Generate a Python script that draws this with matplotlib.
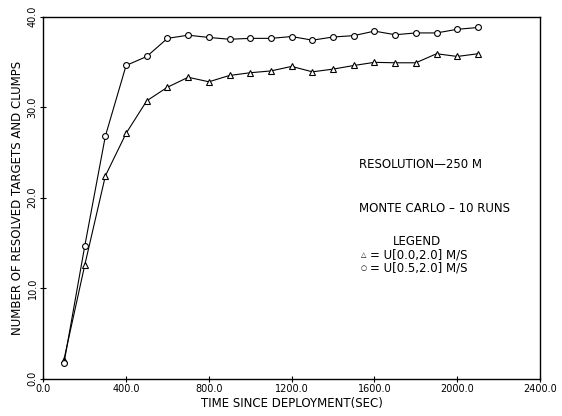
import matplotlib
matplotlib.use("Agg")
import matplotlib.pyplot as plt

# Time since deployment (sec) and mean number of resolved targets/clumps
time_sec = [100, 200, 300, 400, 500, 600, 700, 800, 900, 1000, 1100,
            1200, 1300, 1400, 1500, 1600, 1700, 1800, 1900, 2000, 2100]
speed_00_20 = [2.1, 12.5, 22.4, 27.1, 30.7, 32.2, 33.3, 32.8, 33.5, 33.8, 34.0,
               34.5, 33.9, 34.2, 34.6, 34.95, 34.9, 34.9, 35.9, 35.6, 35.9]
speed_05_20 = [1.7, 14.6, 26.8, 34.6, 35.6, 37.6, 37.95, 37.7, 37.5, 37.6, 37.6,
               37.8, 37.4, 37.75, 37.9, 38.4, 38.0, 38.2, 38.2, 38.6, 38.8]

x_ticks = [0, 400, 800, 1200, 1600, 2000, 2400]
y_ticks = [0, 10, 20, 30, 40]

plt.rcParams['font.family'] = ['DejaVu Sans']

fig = plt.figure(figsize=(5.62, 4.16), dpi=100)
ax = fig.add_axes([0.077, 0.090, 0.884, 0.870])

ax.plot(time_sec, speed_00_20, color='black', lw=0.8, marker='^',
        markersize=4.2, markerfacecolor='white', markeredgewidth=0.8)
ax.plot(time_sec, speed_05_20, color='black', lw=0.8, marker='o',
        markersize=4.2, markerfacecolor='white', markeredgewidth=0.8)

ax.set_xlim(0, 2400)
ax.set_ylim(0, 40)
ax.set_xticks(x_ticks)
ax.set_yticks(y_ticks)
ax.set_xticklabels([f"{v:.1f}" for v in x_ticks], fontsize=7)
ax.set_yticklabels([f"{v:.1f}" for v in y_ticks], fontsize=7,
                   rotation=90, va='center')
ax.tick_params(direction='inout', length=4, width=0.8, pad=2)
for s in ax.spines.values():
    s.set_linewidth(1.0)

ax.set_xlabel("TIME SINCE DEPLOYMENT(SEC)", fontsize=8.5, labelpad=2)
ax.set_ylabel("NUMBER OF RESOLVED TARGETS AND CLUMPS", fontsize=8.5, labelpad=3)

ax.text(0.636, 0.591, "RESOLUTION\u2014250 M", transform=ax.transAxes,
        fontsize=8.5, ha='left', va='center')
ax.text(0.636, 0.471, "MONTE CARLO \u2013 10 RUNS", transform=ax.transAxes,
        fontsize=8.5, ha='left', va='center')
ax.text(0.752, 0.378, "LEGEND", transform=ax.transAxes,
        fontsize=8.5, ha='center', va='center')
ax.text(0.645, 0.341, "\u25b3", transform=ax.transAxes,
        fontsize=5, ha='center', va='center')
ax.text(0.657, 0.341, "= U[0.0,2.0] M/S", transform=ax.transAxes,
        fontsize=8.5, ha='left', va='center')
ax.text(0.645, 0.306, "\u25cb", transform=ax.transAxes,
        fontsize=5, ha='center', va='center')
ax.text(0.657, 0.306, "= U[0.5,2.0] M/S", transform=ax.transAxes,
        fontsize=8.5, ha='left', va='center')

fig.savefig("out.png", dpi=100)
